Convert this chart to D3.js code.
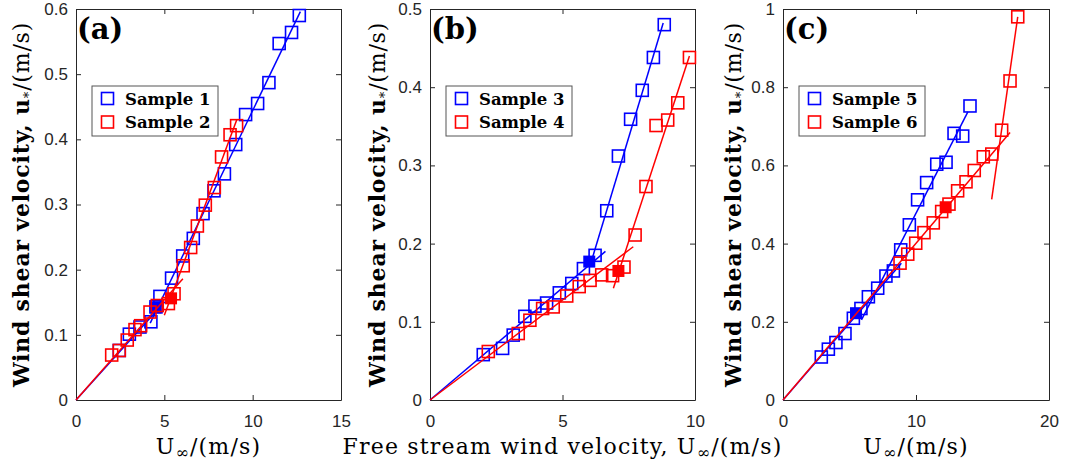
<!DOCTYPE html>
<html>
<head>
<meta charset="utf-8">
<script src="https://cdn.jsdelivr.net/npm/d3@7"></script>
<style>
  body { margin: 0; background: #fff; }
  svg { display: block; }
</style>
</head>
<body>
<div id="chart"></div>
<script>
const sample1 = [[2.45,0.076],[3.02,0.101],[3.62,0.112],[4.24,0.120],[4.53,0.143],[4.75,0.159],[5.41,0.187],[6.04,0.221],[6.64,0.248],[7.19,0.286],[7.81,0.321],[8.40,0.347],[9.04,0.392],[9.60,0.438],[10.28,0.455],[10.92,0.487],[11.50,0.547],[12.20,0.564],[12.64,0.590]];
const sample2 = [[2.02,0.069],[2.45,0.076],[2.90,0.092],[3.34,0.108],[3.66,0.114],[4.19,0.135],[4.60,0.145],[5.23,0.148],[5.55,0.163],[6.07,0.206],[6.49,0.234],[6.87,0.267],[7.32,0.299],[7.83,0.326],[8.24,0.373],[8.72,0.407],[9.09,0.421]];
const sample3 = [[2.01,0.058],[2.74,0.066],[3.14,0.083],[3.58,0.107],[3.96,0.120],[4.40,0.124],[4.88,0.137],[5.35,0.149],[5.79,0.168],[6.23,0.185],[6.67,0.242],[7.11,0.312],[7.57,0.359],[8.01,0.396],[8.43,0.438],[8.84,0.480]];
const sample4 = [[2.20,0.062],[3.33,0.085],[3.77,0.102],[4.25,0.117],[4.65,0.119],[5.16,0.133],[5.63,0.145],[6.04,0.153],[6.48,0.160],[6.89,0.159],[7.32,0.170],[7.74,0.211],[8.15,0.273],[8.53,0.351],[8.97,0.358],[9.35,0.380],[9.79,0.438]];
const sample5 = [[2.88,0.110],[3.41,0.130],[3.98,0.147],[4.66,0.170],[5.29,0.209],[5.86,0.234],[6.42,0.264],[7.12,0.286],[7.74,0.317],[8.30,0.330],[8.85,0.384],[9.50,0.448],[10.12,0.512],[10.80,0.556],[11.56,0.603],[12.26,0.608],[12.86,0.682],[13.51,0.675],[14.06,0.752]];
const sample6 = [[8.80,0.350],[9.38,0.373],[9.98,0.401],[10.60,0.428],[11.30,0.453],[11.93,0.482],[12.48,0.501],[13.13,0.535],[13.76,0.558],[14.38,0.587],[15.06,0.622],[15.70,0.629],[16.44,0.690],[17.07,0.816],[17.65,0.980]];

// break points (filled squares)
const breaks1 = [4.50, 0.142];
const breaks2 = [5.38, 0.156];
const breaks3 = [6.01, 0.177];
const breaks4 = [7.11, 0.165];
const breaks5 = [5.49, 0.222];
const breaks6 = [12.23, 0.493];

// fitted lines: [[x0, y0], [x1, y1]]
const fits1 = [[[0,0],[5.0,0.150]], [[4.2,0.118],[12.7,0.596]]];
const fits2 = [[[0,0],[6.05,0.186]], [[5.0,0.130],[9.1,0.430]]];
const fits3 = [[[0,0],[6.62,0.190]], [[6.14,0.183],[8.80,0.482]]];
const fits4 = [[[0,0],[7.67,0.196]], [[6.92,0.143],[9.79,0.440]]];
const fits5 = [[[0,0],[8.9,0.350]], [[5.9,0.205],[13.9,0.737]]];
const fits6 = [[[0,0],[17.07,0.684]], [[15.69,0.513],[17.65,0.980]]];

const xTicksA = [0, 5, 10, 15];
const xTicksB = [0, 5, 10];
const xTicksC = [0, 10, 20];
const yTicksA = [0, 0.1, 0.2, 0.3, 0.4, 0.5, 0.6];
const yTicksB = [0, 0.1, 0.2, 0.3, 0.4, 0.5];
const yTicksC = [0, 0.2, 0.4, 0.6, 0.8, 1];

const BLUE = '#0000ff';
const RED = '#ff0000';
const AXIS = '#262626';
const TOP = 9;
const BOTTOM = 400;
const SERIF = '"DejaVu Serif", serif';

const svg = d3.select('#chart')
    .append('svg')
        .attr('width', 1065)
        .attr('height', 470);

const panels = [
    { tag: '(a)', left: 76, right: 341, xMax: 15, yMax: 0.6, xTicks: xTicksA, yTicks: yTicksA,
      series: [
          { name: 'Sample 1', color: BLUE, pts: sample1, fits: fits1, brk: breaks1 },
          { name: 'Sample 2', color: RED, pts: sample2, fits: fits2, brk: breaks2 },
      ],
      xLabel: 'short', yLabelX: 21 },
    { tag: '(b)', left: 430, right: 695, xMax: 10, yMax: 0.5, xTicks: xTicksB, yTicks: yTicksB,
      series: [
          { name: 'Sample 3', color: BLUE, pts: sample3, fits: fits3, brk: breaks3 },
          { name: 'Sample 4', color: RED, pts: sample4, fits: fits4, brk: breaks4 },
      ],
      xLabel: 'long', yLabelX: 377 },
    { tag: '(c)', left: 783, right: 1049, xMax: 20, yMax: 1, xTicks: xTicksC, yTicks: yTicksC,
      series: [
          { name: 'Sample 5', color: BLUE, pts: sample5, fits: fits5, brk: breaks5 },
          { name: 'Sample 6', color: RED, pts: sample6, fits: fits6, brk: breaks6 },
      ],
      xLabel: 'short', yLabelX: 733 },
];

function styleAxis(g) {
    g.select('.domain').attr('stroke', AXIS).attr('stroke-width', 1);
    g.selectAll('.tick line').attr('stroke', AXIS);
    g.selectAll('.tick text')
        .attr('fill', AXIS)
        .attr('font-family', '"Liberation Sans", Arial, sans-serif')
        .attr('font-size', 17);
}

function drawPanel(p) {
    const x = d3.scaleLinear().domain([0, p.xMax]).range([p.left, p.right]);
    const y = d3.scaleLinear().domain([0, p.yMax]).range([BOTTOM, TOP]);
    const g = svg.append('g');

    // axes, ticks inward on all four sides
    g.append('g')
        .attr('transform', 'translate(0,' + BOTTOM + ')')
        .call(d3.axisBottom(x).tickValues(p.xTicks).tickSize(-5).tickSizeOuter(0).tickPadding(15).tickFormat(d3.format('')))
        .call(styleAxis);
    g.append('g')
        .attr('transform', 'translate(0,' + TOP + ')')
        .call(d3.axisTop(x).tickValues(p.xTicks).tickSize(-5).tickSizeOuter(0).tickFormat(''))
        .call(styleAxis);
    g.append('g')
        .attr('transform', 'translate(' + p.left + ',0)')
        .call(d3.axisLeft(y).tickValues(p.yTicks).tickSize(-5).tickSizeOuter(0).tickPadding(8).tickFormat(d3.format('')))
        .call(styleAxis);
    g.append('g')
        .attr('transform', 'translate(' + p.right + ',0)')
        .call(d3.axisRight(y).tickValues(p.yTicks).tickSize(-5).tickSizeOuter(0).tickFormat(''))
        .call(styleAxis);

    const line = d3.line().x(d => x(d[0])).y(d => y(d[1]));
    const size = 12;

    p.series.forEach(function (s) {
        g.append('g')
            .selectAll('rect')
            .data(s.pts)
            .join('rect')
                .attr('x', d => x(d[0]) - size / 2)
                .attr('y', d => y(d[1]) - size / 2)
                .attr('width', size)
                .attr('height', size)
                .attr('fill', 'none')
                .attr('stroke', s.color)
                .attr('stroke-width', 1.6);

        g.append('g')
            .selectAll('path')
            .data(s.fits)
            .join('path')
                .attr('d', line)
                .attr('fill', 'none')
                .attr('stroke', s.color)
                .attr('stroke-width', 1.5);

        g.append('rect')
            .attr('x', x(s.brk[0]) - 6)
            .attr('y', y(s.brk[1]) - 6)
            .attr('width', 12)
            .attr('height', 12)
            .attr('fill', s.color);
    });

    // panel tag
    g.append('text')
        .text(p.tag)
        .attr('x', p.left + 1)
        .attr('y', 39)
        .attr('font-family', SERIF)
        .attr('font-weight', 'bold')
        .attr('font-size', 29)
        .attr('fill', '#000');

    // legend
    const lg = g.append('g').attr('transform', 'translate(' + (p.left + 16) + ',86)');
    lg.append('rect')
        .attr('width', 126)
        .attr('height', 50)
        .attr('fill', '#fff')
        .attr('stroke', '#555')
        .attr('stroke-width', 1);
    p.series.forEach(function (s, i) {
        lg.append('rect')
            .attr('x', 15.5 - 6)
            .attr('y', 12.5 + i * 23.5 - 6)
            .attr('width', 12)
            .attr('height', 12)
            .attr('fill', 'none')
            .attr('stroke', s.color)
            .attr('stroke-width', 1.6);
        lg.append('text')
            .text(s.name)
            .attr('x', 33)
            .attr('y', 18.5 + i * 23.5)
            .attr('font-family', SERIF)
            .attr('font-weight', 'bold')
            .attr('font-size', 16.5)
            .attr('fill', '#000');
    });

    // y label
    const yl = g.append('text')
        .attr('transform', 'translate(' + (p.yLabelX + 8) + ',' + ((TOP + BOTTOM) / 2) + ') rotate(-90)')
        .attr('text-anchor', 'middle')
        .attr('font-family', SERIF)
        .attr('font-size', 22)
        .attr('letter-spacing', 0.8)
        .attr('fill', '#000');
    yl.append('tspan').attr('font-weight', 'bold').text('Wind shear velocity, u');
    yl.append('tspan').attr('font-size', 13).attr('dy', 4).text('*');
    yl.append('tspan').attr('dy', -4).text('/(m/s)');

    // x label
    const xl = g.append('text')
        .attr('x', (p.left + p.right) / 2)
        .attr('y', 454)
        .attr('text-anchor', 'middle')
        .attr('font-family', SERIF)
        .attr('font-size', 22)
        .attr('letter-spacing', 1.2)
        .attr('fill', '#000');
    if (p.xLabel === 'long') {
        xl.append('tspan').text('Free stream wind velocity, U');
    } else {
        xl.append('tspan').text('U');
    }
    xl.append('tspan').attr('font-size', 16).attr('dy', 4).text('\u221e');
    xl.append('tspan').attr('dy', -4).text('/(m/s)');
}

panels.forEach(drawPanel);
</script>
</body>
</html>
